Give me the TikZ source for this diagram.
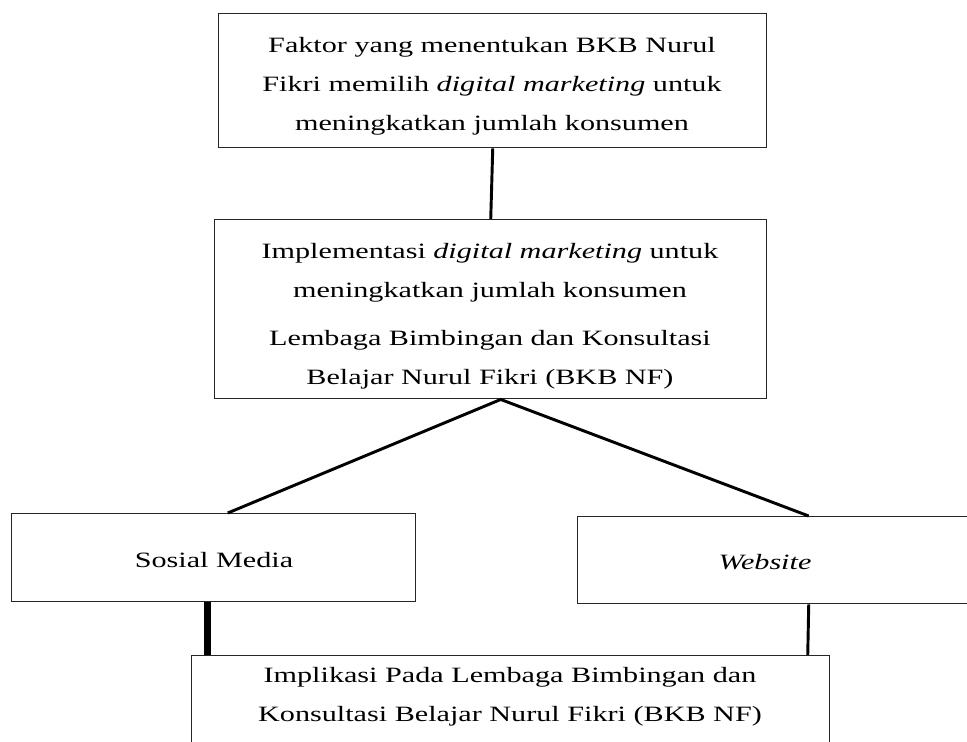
\documentclass[tikz,border=0pt]{standalone}
\usepackage{fontspec}
\setmainfont{Liberation Serif}[FakeStretch=1.38]
\begin{document}
\begin{tikzpicture}[x=0.75pt,y=-0.75pt,
  box/.style={draw=black!85, line width=1.1pt, anchor=north west, inner sep=0pt},
  conn/.style={draw=black, line width=2.2pt},
  txt/.style={font=\fontsize{16.4pt}{29.25pt}\selectfont, align=center, inner sep=0pt}]
\useasboundingbox (0,0) rectangle (967,742);
% boxes
\node[box, minimum width=411pt, minimum height=100.5pt] (b1) at (218,13) {};
\node[box, minimum width=414pt, minimum height=134.25pt] (b2) at (214,219) {};
\node[box, minimum width=303pt, minimum height=66pt] (sm) at (11,513) {};
\node[box, minimum width=300pt, minimum height=65.25pt] (web) at (577,516) {};
\node[box, minimum width=478.5pt, minimum height=82.5pt] (bot) at (191,655) {};
% texts
\node[txt] (t1) at (492,86) {Faktor yang menentukan BKB Nurul\\Fikri memilih \textit{digital marketing} untuk\\meningkatkan jumlah konsumen};
\node[txt] (t2) at (490,316) {Implementasi \textit{digital marketing} untuk\\meningkatkan jumlah konsumen\\[6.75pt]Lembaga Bimbingan dan Konsultasi\\Belajar Nurul Fikri (BKB NF)};
\node[txt] (t3) at (214,560) {Sosial Media};
\node[txt] (t4) at (765,562) {\textit{Website}};
\node[txt] (t5) at (510,697) {Implikasi Pada Lembaga Bimbingan dan\\Konsultasi Belajar Nurul Fikri (BKB NF)};
% connectors
\draw[conn] (b1.south) -- (b2.north);
\coordinate (apex) at ([xshift=7.5pt]b2.south);
\coordinate (sl) at ([xshift=10.5pt]sm.north);
\coordinate (wr) at ([xshift=23.25pt]web.north);
\draw[conn] (sl) -- (apex) -- (wr);
\coordinate (smd) at ([xshift=-4.5pt]sm.south);
\draw[draw=black, line width=5.25pt] (smd) -- (smd |- bot.north);
\coordinate (wbd) at ([xshift=23.25pt]web.south);
\coordinate (wbe) at ([xshift=22.5pt]web.south);
\draw[conn] (wbd) -- (wbe |- bot.north);
\end{tikzpicture}
\end{document}
